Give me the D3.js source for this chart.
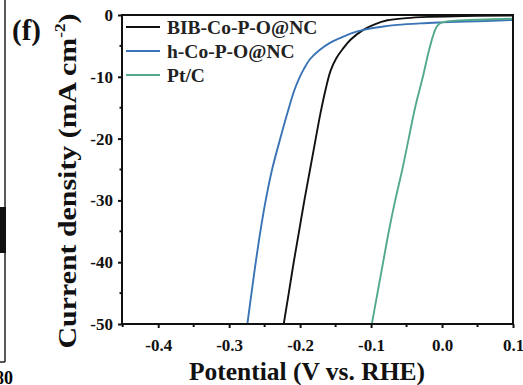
<!DOCTYPE html>
<html>
<head>
<meta charset="utf-8">
<script src="https://cdn.jsdelivr.net/npm/d3@7"></script>
<style>
  body { margin: 0; background: #fff; }
  svg text { font-family: "Liberation Serif", "Times New Roman", serif; font-weight: bold; }
</style>
</head>
<body>
<svg width="523" height="385"></svg>
<script>
// values: [potential V, current density mA cm-2]
var bibData = [[-0.2245,-51],[-0.216,-45],[-0.209,-40],[-0.2015,-35],[-0.194,-30],[-0.186,-25],
  [-0.178,-20],[-0.1715,-16],[-0.164,-12],[-0.157,-9],[-0.149,-7],[-0.140,-5.5],[-0.129,-4.0],
  [-0.111,-2.4],[-0.095,-1.5],[-0.077,-0.85],[-0.05,-0.5],[-0.017,-0.3],[0.03,-0.15],[0.1,-0.1]];
var hData = [[-0.2755,-51],[-0.2685,-45],[-0.2625,-40],[-0.256,-35],[-0.2485,-30],[-0.2395,-25],
  [-0.228,-20],[-0.217,-15.5],[-0.2085,-12.3],[-0.2015,-10.3],[-0.195,-8.8],[-0.1865,-7.2],
  [-0.173,-5.7],[-0.158,-4.5],[-0.145,-3.8],[-0.130,-3.05],[-0.111,-2.4],[-0.085,-1.9],
  [-0.063,-1.6],[-0.03,-1.35],[0.0,-1.2],[0.05,-1.0],[0.1,-0.8]];
var ptData = [[-0.1005,-51],[-0.091,-45],[-0.083,-40],[-0.075,-35],[-0.066,-30],[-0.056,-25],
  [-0.047,-20],[-0.038,-15],[-0.027,-10],[-0.019,-6],[-0.013,-3.5],[-0.008,-2],[-0.002,-1.3],
  [0.01,-1.0],[0.04,-0.8],[0.1,-0.6]];

var seriesNames = ["BIB-Co-P-O@NC", "h-Co-P-O@NC", "Pt/C"];
var seriesColors = ["#111111", "#3a73b6", "#52aa8a"];
var seriesData = [bibData, hData, ptData];

var xTicks = [-0.4, -0.3, -0.2, -0.1, 0.0, 0.1];
var yTicks = [0, -10, -20, -30, -40, -50];

var svg = d3.select("svg");
var pL = 122, pR = 513, pT = 15, pB = 324;

var x = d3.scaleLinear().domain([-0.451, 0.1]).range([pL, pR]);
var y = d3.scaleLinear().domain([-50, 0]).range([pB, pT]);

// fragment of neighbouring panel
svg.append("line").attr("x1",5).attr("x2",5).attr("y1",0).attr("y2",362)
   .attr("stroke","#222").attr("stroke-width",1.5);
svg.append("line").attr("x1",0).attr("x2",5).attr("y1",362).attr("y2",362)
   .attr("stroke","#222").attr("stroke-width",1.5);
svg.append("rect").attr("x",0).attr("y",207).attr("width",6).attr("height",46).attr("fill","#111");
svg.append("text").attr("x",-5).attr("y",384).attr("font-size",18).text("80");

svg.append("defs").append("clipPath").attr("id","clip")
   .append("rect").attr("x",pL).attr("y",pT).attr("width",pR-pL).attr("height",pB-pT);

var line = d3.line().x(function(d){ return x(d[0]); }).y(function(d){ return y(d[1]); })
             .curve(d3.curveCatmullRom.alpha(0.5));

var plot = svg.append("g").attr("clip-path","url(#clip)");
seriesData.forEach(function(s, i){
  plot.append("path").datum(s).attr("d", line)
      .attr("fill","none").attr("stroke", seriesColors[i]).attr("stroke-width",1.9);
});

// axes (hyphen minus like the original)
function fmt(p){ return function(d){ return d3.format(p)(d).replace("\u2212","-"); }; }
var xAxis = d3.axisBottom(x).tickValues(xTicks).tickFormat(fmt(".1f")).tickSize(4);
var yAxis = d3.axisLeft(y).tickValues(yTicks).tickFormat(fmt("d")).tickSize(4);

var gx = svg.append("g").attr("transform","translate(0,"+pB+")").call(xAxis);
var gy = svg.append("g").attr("transform","translate("+pL+",0)").call(yAxis);
[gx, gy].forEach(function(g){
  g.select(".domain").remove();
  g.selectAll(".tick line").attr("stroke","#111").attr("stroke-width",2);
  g.selectAll(".tick text").attr("font-size",17).attr("fill","#111")
   .attr("font-family","Liberation Serif").attr("font-weight","bold");
});
gx.selectAll(".tick text").attr("dy","1.15em");
gy.selectAll(".tick text").attr("dx","-0.12em");

// minor ticks
var xMinor = xTicks.slice(0,-1).map(function(t){ return t + 0.05; }).concat([-0.45]);
svg.selectAll(".xminor").data(xMinor).enter().append("line")
   .attr("x1",function(d){ return x(d); }).attr("x2",function(d){ return x(d); })
   .attr("y1",pB).attr("y2",pB+3).attr("stroke","#111").attr("stroke-width",2);
var yMinor = yTicks.slice(0,-1).map(function(t){ return t - 5; });
svg.selectAll(".yminor").data(yMinor).enter().append("line")
   .attr("x1",pL-2.5).attr("x2",pL)
   .attr("y1",function(d){ return y(d); }).attr("y2",function(d){ return y(d); })
   .attr("stroke","#111").attr("stroke-width",2);

// frame
svg.append("rect").attr("x",pL).attr("y",pT).attr("width",pR-pL).attr("height",pB-pT)
   .attr("fill","none").attr("stroke","#111").attr("stroke-width",2);

// legend
seriesNames.forEach(function(n, i){
  var ly = 27 + i*24;
  svg.append("line").attr("x1",126).attr("x2",160).attr("y1",ly).attr("y2",ly)
     .attr("stroke",seriesColors[i]).attr("stroke-width",2.2);
  svg.append("text").attr("x",167).attr("y",ly+7).attr("font-size",19.5).attr("fill","#222").text(n);
});

// titles
svg.append("text").attr("x",307).attr("y",380).attr("text-anchor","middle")
   .attr("font-size",25.5).attr("fill","#111").text("Potential (V vs. RHE)");
var yt = svg.append("text").attr("transform","translate(76,181) scale(1,1.15) rotate(-90)")
   .attr("text-anchor","middle").attr("font-size",26).attr("fill","#111");
yt.append("tspan").text("Current density (mA cm");
yt.append("tspan").attr("font-size",15).attr("dy",-11).text("-2");
yt.append("tspan").attr("dy",11).text(")");

svg.append("text").attr("x",12).attr("y",40).attr("font-size",29).attr("fill","#111").text("(f)");
</script>
</body>
</html>
